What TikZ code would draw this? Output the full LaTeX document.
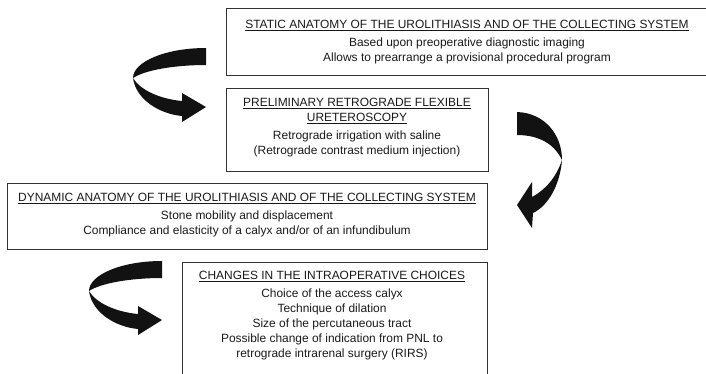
\documentclass[tikz,border=0pt]{standalone}
\usepackage{fontspec}
\setmainfont{Liberation Sans}

\begin{document}
\begin{tikzpicture}[x=1pt, y=-1pt,
  frame/.style={draw=black!80, line width=1.2pt, anchor=north west, inner sep=0pt},
  txt/.style={align=center, text=black!90, font=\fontsize{11.95}{15}\selectfont},
  ribbon/.style={fill=black!93}]
\useasboundingbox (0,0) rectangle (706,373);

% boxes
\node [frame, minimum width=483pt, minimum height=67pt] (static) at (226,8) {};
\node [frame, minimum width=262pt, minimum height=83pt] (prelim) at (226,88) {};
\node [frame, minimum width=480pt, minimum height=66pt] (dynamic) at (7,183) {};
\node [frame, minimum width=305pt, minimum height=130pt] (changes) at (182,262) {};

% texts
\node [txt] (statictxt) at (467,42) {\underline{STATIC ANATOMY OF THE UROLITHIASIS AND OF THE COLLECTING SYSTEM}\\[3pt]
  Based upon preoperative diagnostic imaging\\ Allows to prearrange a provisional procedural program};
\node [txt] (prelimtxt) at (357,128) {\underline{PRELIMINARY RETROGRADE FLEXIBLE}\\ \underline{URETEROSCOPY}\\[3pt]
  Retrograde irrigation with saline\\ (Retrograde contrast medium injection)};
\node [txt] (dynamictxt) at (247,215) {\underline{DYNAMIC ANATOMY OF THE UROLITHIASIS AND OF THE COLLECTING SYSTEM}\\[3pt]
  Stone mobility and displacement\\ Compliance and elasticity of a calyx and/or of an infundibulum};
\node [txt] (changestxt) at (332,316) {\underline{CHANGES IN THE INTRAOPERATIVE CHOICES}\\[3pt]
  Choice of the access calyx\\ Technique of dilation\\ Size of the percutaneous tract\\
  Possible change of indication from PNL to\\ retrograde intrarenal surgery (RIRS)};

% turning arrows
\fill [ribbon] (206,48) .. controls (165,48) and (133,62) .. (133,78)
  .. controls (136,100) and (160,114) .. (182,116) -- (182,122) -- (206,107) -- (182,93) -- (182,101)
  .. controls (160,99) and (140,90) .. (133,78)
  .. controls (145,70) and (175,65) .. (206,65) -- cycle;
\fill [ribbon, shift={(-44,213)}] (206,48) .. controls (165,48) and (133,62) .. (133,78)
  .. controls (136,100) and (160,114) .. (182,116) -- (182,122) -- (206,107) -- (182,93) -- (182,101)
  .. controls (160,99) and (140,90) .. (133,78)
  .. controls (145,70) and (175,65) .. (206,65) -- cycle;
\fill [ribbon] (517,112) .. controls (545,113) and (562,135) .. (562,160)
  .. controls (560,185) and (548,206) .. (533,213) -- (532,228) -- (517,205) -- (532,182) -- (532,197)
  .. controls (545,190) and (556,178) .. (562,160)
  .. controls (555,145) and (540,135) .. (517,135) -- cycle;

\end{tikzpicture}
\end{document}
